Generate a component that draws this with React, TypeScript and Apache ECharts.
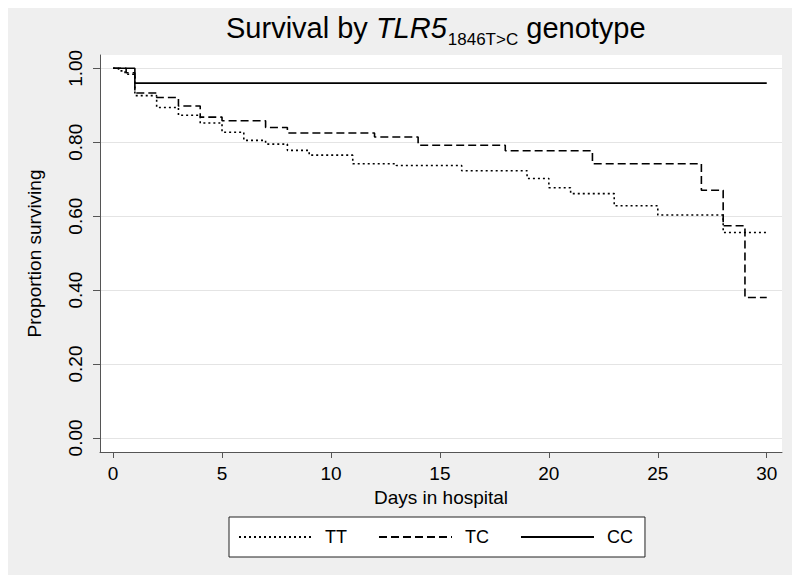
import React, { useEffect, useRef } from "react";
import * as echarts from "echarts";

const ttDays = [0, 0.25, 0.55, 1, 2, 3, 4, 5, 6, 7, 8, 9, 11, 13, 16, 19, 20, 21, 23, 25, 28, 30];
const ttSurv = [1, 0.993, 0.984, 0.926, 0.894, 0.873, 0.852, 0.827, 0.805, 0.795, 0.778, 0.765, 0.742, 0.737, 0.723, 0.702, 0.677, 0.661, 0.628, 0.603, 0.556, 0.556];

const tcDays = [0, 0.6, 1, 2, 3, 4, 5, 7, 8, 12, 14, 18, 22, 27, 28, 29, 30];
const tcSurv = [1, 0.988, 0.933, 0.921, 0.898, 0.868, 0.858, 0.84, 0.825, 0.814, 0.792, 0.777, 0.742, 0.67, 0.574, 0.38, 0.38];

const ccDays = [0, 1, 30];
const ccSurv = [1, 0.96, 0.96];

const xTicks = [0, 5, 10, 15, 20, 25, 30];
const yTicks = [0, 0.2, 0.4, 0.6, 0.8, 1.0];

const seriesNames = ["TT", "TC", "CC"];

const pairs = (xs: number[], ys: number[]) => xs.map((x, i) => [x, ys[i]]);

export default function App() {
  const ref = useRef<HTMLDivElement>(null);
  useEffect(() => {
    if (!ref.current) return;
    const chart = echarts.init(ref.current, null, { renderer: "svg" });
    const font = "Liberation Sans, Arial, sans-serif";
    chart.setOption({
      animation: false,
      backgroundColor: "#efefef",
      textStyle: { fontFamily: font },
      title: {
        text: "{n|Survival by }{i|TLR5}{s|1846T>C}{n| genotype}",
        left: 221,
        top: 3,
        textStyle: {
          fontFamily: font,
          fontWeight: "normal",
          rich: {
            n: { fontSize: 29, color: "#000", fontFamily: font, fontWeight: "normal", lineHeight: 40, verticalAlign: "middle" },
            i: { fontSize: 29, color: "#000", fontFamily: font, fontWeight: "normal", fontStyle: "italic", lineHeight: 40, verticalAlign: "middle" },
            s: { fontSize: 17, color: "#000", fontFamily: font, fontWeight: "normal", lineHeight: 22, verticalAlign: "bottom", padding: [0, 0, 0, 1] },
          },
        },
      },
      grid: {
        left: 100,
        right: 18,
        top: 55,
        bottom: 131,
        show: true,
        backgroundColor: "#ffffff",
        borderWidth: 0,
      },
      legend: {
        data: seriesNames,
        left: 229,
        top: 517,
        orient: "horizontal",
        backgroundColor: "#ffffff",
        borderColor: "#222",
        borderWidth: 1,
        borderRadius: 0,
        padding: [11, 12, 11, 9],
        itemWidth: 73,
        itemHeight: 14,
        itemGap: 31,
        itemStyle: { opacity: 0 },
        textStyle: { fontSize: 18, color: "#000", fontFamily: font, padding: [0, 0, 0, 8] },
      },
      xAxis: {
        type: "value",
        min: -0.6,
        max: 30.7,
        name: "Days in hospital",
        nameLocation: "middle",
        nameGap: 34,
        nameTextStyle: { fontSize: 19, color: "#000", fontFamily: font },
        axisLine: { show: true, onZero: false, lineStyle: { color: "#555", width: 1 } },
        axisTick: { show: true, length: 6, customValues: xTicks, lineStyle: { color: "#555" } },
        axisLabel: { customValues: xTicks, fontSize: 19, color: "#000", margin: 12, fontFamily: font },
        splitLine: { show: false },
      },
      yAxis: {
        type: "value",
        min: -0.038,
        max: 1.036,
        name: "Proportion surviving",
        nameLocation: "middle",
        nameGap: 56,
        nameTextStyle: { fontSize: 19, color: "#000", fontFamily: font },
        axisLine: { show: true, onZero: false, lineStyle: { color: "#555", width: 1 } },
        axisTick: { show: true, length: 7, customValues: yTicks, lineStyle: { color: "#555" } },
        axisLabel: {
          customValues: yTicks,
          rotate: 90,
          fontSize: 19,
          color: "#000",
          margin: 15,
          fontFamily: font,
          formatter: (v: number) => v.toFixed(2),
        },
        splitLine: { show: true, lineStyle: { color: "#e4e4e4", width: 1 } },
      },
      series: [
        {
          name: "TT",
          type: "line",
          step: "end",
          symbol: "none",
          data: pairs(ttDays, ttSurv),
          lineStyle: { color: "#000", width: 1.6, type: [2, 3] },
          itemStyle: { color: "#000" },
        },
        {
          name: "TC",
          type: "line",
          step: "end",
          symbol: "none",
          data: pairs(tcDays, tcSurv),
          lineStyle: { color: "#000", width: 1.6, type: [8, 4] },
          itemStyle: { color: "#000" },
        },
        {
          name: "CC",
          type: "line",
          step: "end",
          symbol: "none",
          data: pairs(ccDays, ccSurv),
          lineStyle: { color: "#000", width: 1.6, type: "solid" },
          itemStyle: { color: "#000" },
        },
      ],
    });
    return () => chart.dispose();
  }, []);
  return <div ref={ref} style={{ width: 800, height: 583, margin: -8 }} />;
}
